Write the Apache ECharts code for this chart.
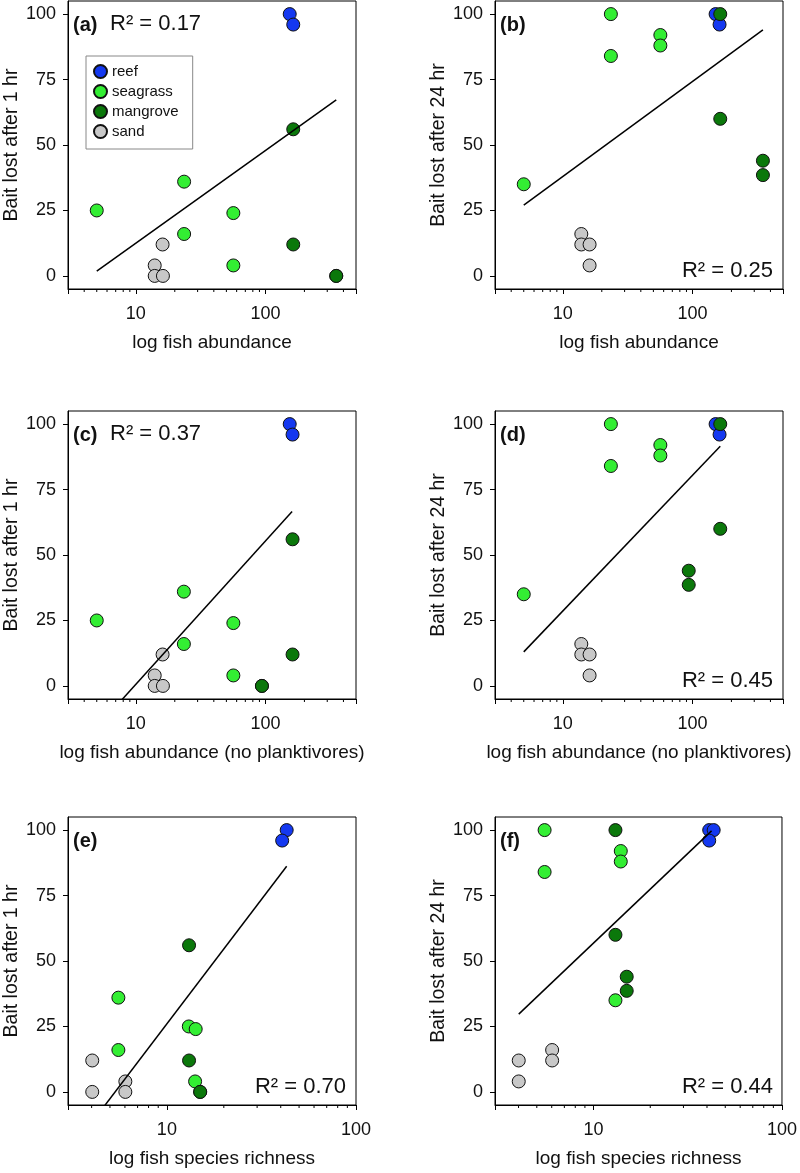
<!DOCTYPE html>
<html><head><meta charset="utf-8">
<script src="https://cdn.jsdelivr.net/npm/echarts@6/dist/echarts.min.js"></script>
<style>html,body{margin:0;padding:0;background:#fff}#c{width:800px;height:1173px}</style>
</head><body><div id="c"></div>
<script>
// ---------------- DATA ----------------
const habitats = ['reef', 'seagrass', 'mangrove', 'sand'];

// (a) log fish abundance vs bait lost after 1 hr
const aReef = [[154, 100], [164, 96]];
const aSeagrass = [[5.0, 25], [23.6, 36], [23.6, 16], [56.6, 24], [56.6, 4]];
const aMangrove = [[164, 56], [164, 12], [352, 0], [352, 0]];
const aSand = [[16.1, 12], [14.0, 4], [14.0, 0], [16.2, 0]];
const aFit = [[5.0, 1.8], [352, 67.2]];

// (b) log fish abundance vs bait lost after 24 hr
const bReef = [[151, 100], [162, 96]];
const bSeagrass = [[5.0, 35], [23.5, 100], [23.5, 84], [56.6, 92], [56.6, 88]];
const bMangrove = [[164, 100], [164, 60], [350, 44], [350, 38.5]];
const bSand = [[13.9, 16], [13.9, 12], [16.1, 12], [16.1, 4]];
const bFit = [[5.0, 27], [350, 94]];

// (c) log fish abundance (no planktivores) vs 1 hr
const cReef = [[154, 100], [162, 96]];
const cSeagrass = [[5.0, 25], [23.5, 36], [23.5, 16], [56.6, 24], [56.6, 4]];
const cMangrove = [[162, 56], [162, 12], [94, 0], [94, 0]];
const cSand = [[16.1, 12], [14.0, 4], [14.0, 0], [16.2, 0]];
const cFit = [[5.0, -15.9], [160.7, 66.6]];

// (d) log fish abundance (no planktivores) vs 24 hr
const dReef = [[151, 100], [162, 96]];
const dSeagrass = [[5.0, 35], [23.5, 100], [23.5, 84], [56.6, 92], [56.6, 88]];
const dMangrove = [[164, 100], [164, 60], [93.7, 44], [93.7, 38.6]];
const dSand = [[13.9, 16], [13.9, 12], [16.1, 12], [16.1, 4]];
const dFit = [[5.0, 13], [164, 91.5]];

// (e) log fish species richness vs 1 hr
const eReef = [[43, 100], [40.7, 96]];
const eSeagrass = [[5.54, 36], [5.54, 16], [13.06, 25], [14.2, 24], [14.1, 4]];
const eMangrove = [[13.1, 56], [13.1, 12], [15.0, 0], [15.0, 0]];
const eSand = [[4.03, 12], [4.03, 0], [6.03, 4], [6.03, 0]];
const eFit = [[4.03, -11.5], [43, 86.2]];

// (f) log fish species richness vs 24 hr
const fReef = [[41.1, 100], [43.4, 100], [41.1, 96]];
const fSeagrass = [[5.5, 100], [5.5, 84], [13.95, 92], [13.95, 88], [13.07, 35]];
const fMangrove = [[13.07, 100], [13.07, 60], [15.0, 44], [15.0, 38.6]];
const fSand = [[4.01, 12], [4.01, 4], [6.03, 16], [6.03, 12]];
const fFit = [[4.01, 29.7], [42.3, 99.7]];

// axis ticks / labels
const yTicks = [0, 25, 50, 75, 100];
const xLabelValues = [10, 100];
const abundanceMinorTicks = [4, 5, 6, 7, 8, 9, 20, 30, 40, 50, 60, 70, 80, 90, 200, 300, 400];
const richnessMinorTicks = [4, 5, 6, 7, 8, 9, 20, 30, 40, 50, 60, 70, 80, 90];

const r2Labels = ['R² = 0.17', 'R² = 0.25', 'R² = 0.37', 'R² = 0.45', 'R² = 0.70', 'R² = 0.44'];
const panelLetters = ['(a)', '(b)', '(c)', '(d)', '(e)', '(f)'];
const xNames = ['log fish abundance', 'log fish abundance', 'log fish abundance (no planktivores)',
  'log fish abundance (no planktivores)', 'log fish species richness', 'log fish species richness'];
const yNames = ['Bait lost after 1 hr', 'Bait lost after 24 hr', 'Bait lost after 1 hr',
  'Bait lost after 24 hr', 'Bait lost after 1 hr', 'Bait lost after 24 hr'];

// ---------------- LAYOUT / STYLE ----------------
const FONT = '"Liberation Sans", Arial, Helvetica, sans-serif';
const colors = { reef: '#1438f0', seagrass: '#33ee33', mangrove: '#0b780b', sand: '#c8c8c8' };
const panelData = [
  [aReef, aSeagrass, aMangrove, aSand, aFit],
  [bReef, bSeagrass, bMangrove, bSand, bFit],
  [cReef, cSeagrass, cMangrove, cSand, cFit],
  [dReef, dSeagrass, dMangrove, dSand, dFit],
  [eReef, eSeagrass, eMangrove, eSand, eFit],
  [fReef, fSeagrass, fMangrove, fSand, fFit]
];
const lefts = [68, 495];
const tops = [1, 411, 817];
const W = 288, H = 288;
const xRanges = [[3, 500], [3, 500], [3, 500], [3, 500], [3, 100], [3, 100]];
const minors = [abundanceMinorTicks, abundanceMinorTicks, abundanceMinorTicks, abundanceMinorTicks, richnessMinorTicks, richnessMinorTicks];
const r2Top = [true, false, true, false, false, false];

const grids = [], xAxes = [], yAxes = [], series = [], graphics = [];
for (let i = 0; i < 6; i++) {
  const col = i % 2, row = Math.floor(i / 2);
  const L = lefts[col], T = tops[row];
  grids.push({ left: L, top: T, width: W, height: H, show: true, borderColor: '#000', borderWidth: 1, backgroundColor: '#fff' });
  xAxes.push({
    type: 'log', logBase: 10, gridIndex: i, min: xRanges[i][0], max: xRanges[i][1], position: 'bottom',
    name: xNames[i], nameLocation: 'middle', nameGap: 44,
    nameTextStyle: { fontFamily: FONT, fontSize: 19, color: '#111' },
    axisLine: { show: true, onZero: false, lineStyle: { color: '#000', width: 1 } },
    axisTick: { show: true, inside: false, length: 5, lineStyle: { color: '#000' } },
    splitLine: { show: false }, minorTick: { show: false },
    axisLabel: {
      margin: 16, fontFamily: FONT, fontSize: 18, color: '#111', showMinLabel: true, showMaxLabel: true,
      formatter: (v) => {
        for (const t of xLabelValues) if (Math.abs(v - t) / t < 1e-6) return String(t);
        return '';
      }
    }
  });
  yAxes.push({
    type: 'value', gridIndex: i, min: -5, max: 105, position: 'left',
    name: yNames[i], nameLocation: 'middle', nameGap: 46,
    nameTextStyle: { fontFamily: FONT, fontSize: 19.5, color: '#111' },
    axisLine: { show: true, onZero: false, lineStyle: { color: '#000', width: 1 } },
    axisTick: { show: true, inside: false, length: 5, customValues: yTicks, lineStyle: { color: '#000' } },
    axisLabel: { margin: 12, fontFamily: FONT, fontSize: 18, color: '#111', customValues: yTicks },
    splitLine: { show: false }
  });
  const pd = panelData[i];
  habitats.forEach((h, k) => {
    series.push({
      type: 'scatter', name: h, xAxisIndex: i, yAxisIndex: i, data: pd[k],
      symbol: 'circle', symbolSize: 13, z: 2,
      itemStyle: { color: colors[h], borderColor: '#111', borderWidth: 1, opacity: 1 },
      emphasis: { disabled: true }
    });
  });
  series.push({
    type: 'line', name: 'fit', xAxisIndex: i, yAxisIndex: i, data: pd[4],
    symbol: 'none', clip: true, z: 3, silent: true,
    lineStyle: { color: '#000', width: 1.5 }
  });
  series.push({
    type: 'custom', name: 'minorTicks', xAxisIndex: i, yAxisIndex: i, silent: true, clip: false,
    data: minors[i].filter(v => v > xRanges[i][0] && v < xRanges[i][1]).map(v => [v, 0]),
    encode: { x: 0, y: 1 },
    renderItem: (params, api) => {
      const x = api.coord([api.value(0), 0])[0];
      const cs = params.coordSys;
      const yb = cs.y + cs.height;
      return { type: 'line', shape: { x1: x, y1: yb, x2: x, y2: yb + 3 }, style: { stroke: '#000', lineWidth: 1 } };
    }
  });
  // panel letter
  graphics.push({
    type: 'text', left: L + 5, top: T + 14, z: 10,
    style: { text: panelLetters[i], fontFamily: FONT, fontSize: 20, fontWeight: 'bold', fill: '#111' }
  });
  if (r2Top[i]) {
    graphics.push({
      type: 'text', left: L + 42, top: T + 12, z: 10,
      style: { text: r2Labels[i], fontFamily: FONT, fontSize: 22, fill: '#111' }
    });
  } else {
    graphics.push({
      type: 'text', right: 800 - (L + W) + 10, top: T + H - 29, z: 10,
      style: { text: r2Labels[i], fontFamily: FONT, fontSize: 22, fill: '#111' }
    });
  }
}

const chart = echarts.init(document.getElementById('c'), null, { renderer: 'canvas' });
chart.setOption({
  animation: false,
  backgroundColor: '#fff',
  grid: grids, xAxis: xAxes, yAxis: yAxes, series: series,
  legend: {
    data: habitats, orient: 'vertical', left: 86, top: 56,
    borderColor: '#888', borderWidth: 1, backgroundColor: '#fff',
    padding: [8, 14, 10, 7], itemGap: 5, itemWidth: 13, itemHeight: 13, icon: 'circle',
    textStyle: { fontFamily: FONT, fontSize: 15, color: '#111' }, selectedMode: false
  },
  graphic: graphics
});
</script></body></html>
